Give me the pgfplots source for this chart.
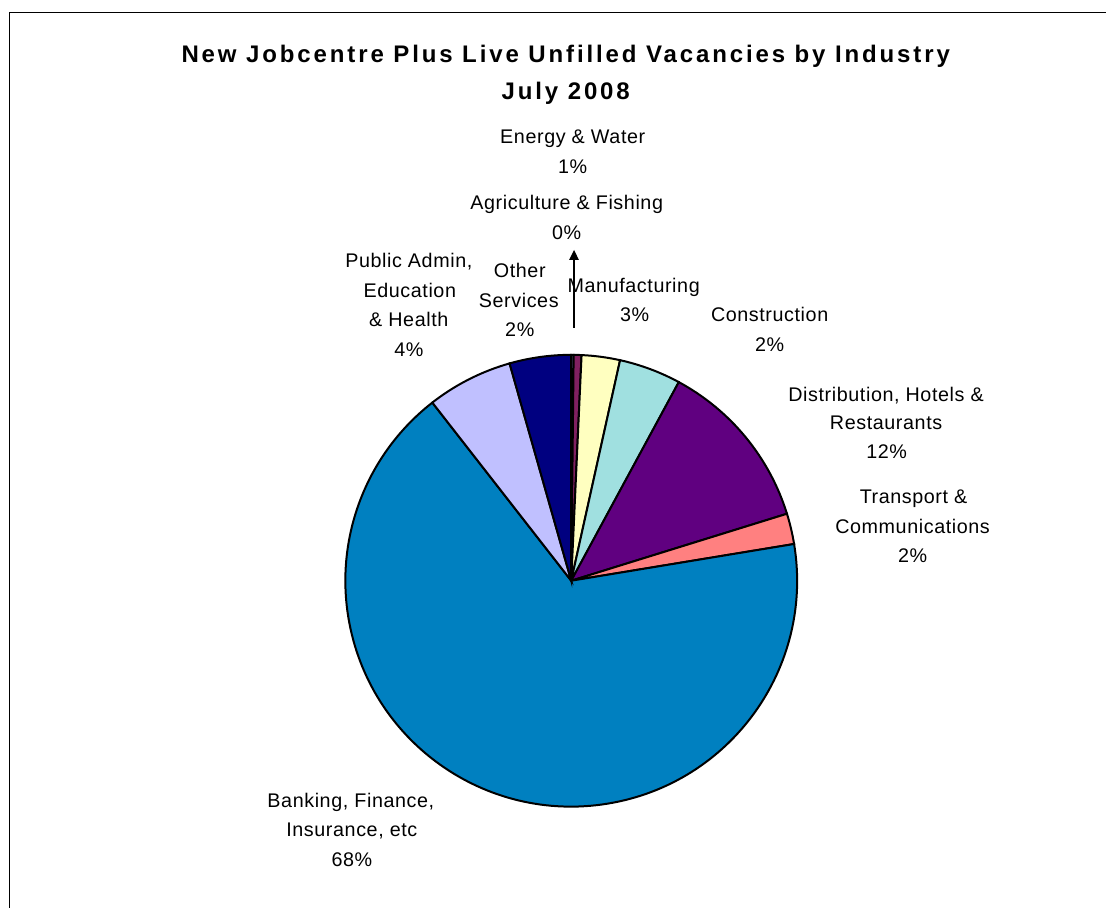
\documentclass[border=0pt]{standalone}
\usepackage{fontspec}
\setmainfont{Liberation Sans}
\newfontfamily\titlefont[LetterSpace=12]{Liberation Sans}
\newfontfamily\labfont[LetterSpace=3]{Liberation Sans}
\usepackage{pgfplots}
\usepackage{pgfplotstable}
\pgfplotsset{compat=1.18}
\usetikzlibrary{arrows.meta}

% slice fills, clockwise from 12 o'clock
\definecolor{slice0}{HTML}{A0A0EC}
\definecolor{slice1}{HTML}{802060}
\definecolor{slice2}{HTML}{FFFFC0}
\definecolor{slice3}{HTML}{A0E0E0}
\definecolor{slice4}{HTML}{600080}
\definecolor{slice5}{HTML}{FF8080}
\definecolor{slice6}{HTML}{0080C0}
\definecolor{slice7}{HTML}{C0C0FF}
\definecolor{slice8}{HTML}{000080}

% share of vacancies (percent)
\pgfplotstableread{
sector share
agri    0.17
energy  0.56
manuf   2.74
constr  4.43
distr  12.31
trans   2.19
bank   67.06
pubadm  6.14
other   4.40
}\slices

\tikzset{
  lab/.style={anchor=base, inner sep=0pt, font=\labfont\fontsize{14.8}{17}\selectfont},
  ttl/.style={anchor=base, inner sep=0pt, font=\titlefont\bfseries\fontsize{18}{21}\selectfont},
}

\begin{document}
\begin{tikzpicture}
\begin{axis}[
    scale only axis,
    width=830.25pt, height=681pt,
    xmin=0, xmax=1107, ymin=0, ymax=908,
    y dir=reverse,
    hide axis, clip=false,
]
\path (axis cs:0,0) rectangle (axis cs:1107,908);
\draw[line width=0.8pt] (axis cs:9.5,908) -- (axis cs:9.5,12.5) -- (axis cs:1107,12.5);

% wedges
\def\cum{0}
\pgfplotsforeachungrouped \i in {0,...,8}{%
  \pgfplotstablegetelem{\i}{share}\of\slices
  \pgfmathsetmacro\angA{90-3.6*\cum}%
  \pgfmathsetmacro\cum{\cum+\pgfplotsretval}%
  \pgfmathsetmacro\angB{90-3.6*\cum}%
  \edef\slicepath{\noexpand\filldraw[fill=slice\i, draw=black, line width=1.5pt]
    (axis cs:571.5,581) -- ++(\angA:169.5pt)
    arc[start angle=\angA, end angle=\angB, radius=169.5pt] -- cycle;}%
  \slicepath
}

% title
\node[ttl] at (axis cs:566,63) {New Jobcentre Plus Live Unfilled Vacancies by Industry};
\node[ttl] at (axis cs:566,100) {July 2008};

% leader for Agriculture
\draw[line width=1.1pt, -{Triangle[length=7.5pt,width=7pt]}] (axis cs:574.3,328) -- (axis cs:574.3,250);

% labels
\node[lab] at (axis cs:573,144) {Energy \& Water};
\node[lab] at (axis cs:573,174) {1\%};
\node[lab] at (axis cs:567,210) {Agriculture \& Fishing};
\node[lab] at (axis cs:567,240) {0\%};

\node[lab] at (axis cs:409,268) {Public Admin,};
\node[lab] at (axis cs:410,298) {Education};
\node[lab] at (axis cs:409,327) {\& Health};
\node[lab] at (axis cs:409,357) {4\%};

\node[lab] at (axis cs:520,278) {Other};
\node[lab] at (axis cs:519,308) {Services};
\node[lab] at (axis cs:520,337) {2\%};

\node[lab] at (axis cs:634,293) {Manufacturing};
\node[lab] at (axis cs:635,322) {3\%};

\node[lab] at (axis cs:770,322) {Construction};
\node[lab] at (axis cs:770,352) {2\%};

\node[lab] at (axis cs:886.5,402) {Distribution, Hotels \&};
\node[lab] at (axis cs:886.5,430) {Restaurants};
\node[lab] at (axis cs:887,459) {12\%};

\node[lab] at (axis cs:914,504) {Transport \&};
\node[lab] at (axis cs:913,534) {Communications};
\node[lab] at (axis cs:913,563) {2\%};

\node[lab] at (axis cs:351,808) {Banking, Finance,};
\node[lab] at (axis cs:352,837) {Insurance, etc};
\node[lab] at (axis cs:352,867) {68\%};
\end{axis}
\end{tikzpicture}
\end{document}
